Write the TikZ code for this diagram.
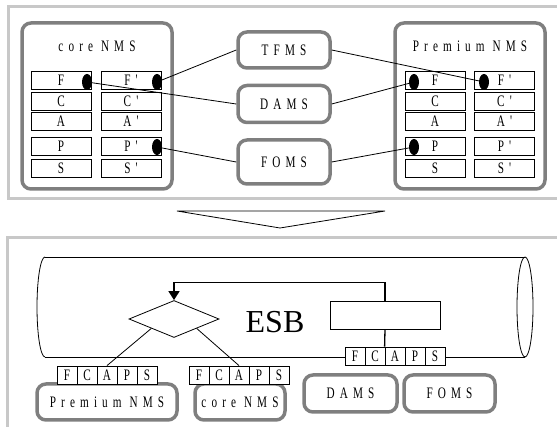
\documentclass[tikz,border=0pt]{standalone}
\usepackage{fontspec}
\setmainfont{Liberation Serif}
\newfontfamily\nmsfont[FakeStretch=0.7,LetterSpace=32]{Liberation Serif}
\newcommand\nmstext{\nmsfont\fontsize{16}{16}\selectfont}
\usetikzlibrary{shapes.geometric,arrows.meta}
\definecolor{panelgray}{HTML}{C8C8C8}
\definecolor{boxgray}{HTML}{7F7F7F}
\tikzset{
  panel/.style = {draw = panelgray, line width = 3},
  nms/.style = {draw = boxgray, line width = 3.5, rounded corners = 9, fill = white, font = \nmstext},
  cell/.style = {draw, fill = white, line width = 0.8, minimum width = 60, minimum height = 18, inner sep = 0, font = \nmstext},
  capcell/.style = {cell, minimum width = 20},
  dot/.style = {ellipse, fill = black, minimum width = 10, minimum height = 16, inner sep = 0},
  link/.style = {line width = 0.8}
}
\begin{document}
\begin{tikzpicture}[x = 1pt, y = -1pt]
\useasboundingbox (0,0) rectangle (557,427);
% top panel
\draw[panel] (580,7) -- (8,7) -- (8,199) -- (580,199);
\node[nms, minimum width = 150, minimum height = 166] (core) at (97,106) {};
\node[font = \nmstext] (coretitle) at (97,46) {core NMS};
\node[cell] (cF) at (61,80) {F};
\node[cell] (cF2) at (131,80) {F'};
\node[cell] (cC) at (61,101) {C};
\node[cell] (cC2) at (131,101) {C'};
\node[cell] (cA) at (61,121.5) {A};
\node[cell] (cA2) at (131,121.5) {A'};
\node[cell] (cP) at (61,146) {P};
\node[cell] (cP2) at (131,146) {P'};
\node[cell] (cS) at (61,168.5) {S};
\node[cell] (cS2) at (131,168.5) {S'};
\node[dot] (cdF) at (87,82) {};
\node[dot] (cdF2) at (157,82) {};
\node[dot] (cdP2) at (157,147) {};
\node[nms, minimum width = 150, minimum height = 166] (prem) at (470,106) {};
\node[font = \nmstext] (premtitle) at (470,46) {Premium NMS};
\node[cell] (pF) at (435,80) {F};
\node[cell] (pF2) at (504.5,80) {F'};
\node[cell] (pC) at (435,101) {C};
\node[cell] (pC2) at (504.5,101) {C'};
\node[cell] (pA) at (435,121.5) {A};
\node[cell] (pA2) at (504.5,121.5) {A'};
\node[cell] (pP) at (435,146) {P};
\node[cell] (pP2) at (504.5,146) {P'};
\node[cell] (pS) at (435,168.5) {S};
\node[cell] (pS2) at (504.5,168.5) {S'};
\node[dot] (pdF) at (414,82) {};
\node[dot] (pdF2) at (484,82) {};
\node[dot] (pdP) at (414,147) {};
\node[nms, minimum width = 92, minimum height = 36] (tfms) at (284,50) {TFMS};
\node[nms, minimum width = 92, minimum height = 37] (dams) at (284,104) {DAMS};
\node[nms, minimum width = 92, minimum height = 44] (foms) at (284,162) {FOMS};
\draw[link] (tfms.west) -- (cdF2);
\draw[link] (tfms.east) -- (pdF2);
\draw[link] (dams.west) -- (cdF);
\draw[link] (dams.east) -- (pdF);
\draw[link] (foms.west) -- (cdP2);
\draw[link] (foms.east) -- (pdP);
% arrow between the panels
\draw[link] (177,211) -- (385,211) -- (280,228) -- cycle;
% bottom panel
\draw[panel] (580,238) -- (7,238) -- (7,440);
\draw[link] (45,257) -- (525,257);
\draw[link] (45,357) -- (525,357);
\draw[link] (45,257) arc[start angle = 90, end angle = 270, x radius = 8pt, y radius = 50pt];
\draw[link] (525,307) ellipse [x radius = 8pt, y radius = 50pt];
\node[font = \fontsize{32}{32}\selectfont] (esb) at (275,322) {ESB};
\node[draw, diamond, link, minimum width = 90, minimum height = 37, inner sep = 0] (dia) at (174,319) {};
\node[draw, link, minimum width = 110, minimum height = 28] (rbox) at (385,315) {};
\node[nms, minimum width = 140, minimum height = 36] (bprem) at (107,402) {Premium NMS};
\node[nms, minimum width = 90, minimum height = 36] (bcore) at (240,402) {core NMS};
\node[nms, minimum width = 93, minimum height = 37] (bdams) at (350.5,393.5) {DAMS};
\node[nms, minimum width = 91, minimum height = 37] (bfoms) at (449.5,393.5) {FOMS};
\foreach \l [count = \i] in {F,C,A,P,S} {
  \node[capcell] (b\i) at (335+\i*20,356) {\l};
  \node[capcell] (p\i) at (47+\i*20,375) {\l};
  \node[capcell] (c\i) at (179+\i*20,375) {\l};
}
\draw[line width = 1.6, -{Triangle[length = 9pt, width = 11pt]}] (rbox.north) -- ++(0,-18) -| (dia.north);
\draw[line width = 1.3] (rbox.south) -- (b3.north west);
\draw[link] (dia.south west) -- (p3.north);
\draw[link] (dia.south east) -- (c3.north);
\end{tikzpicture}
\end{document}
